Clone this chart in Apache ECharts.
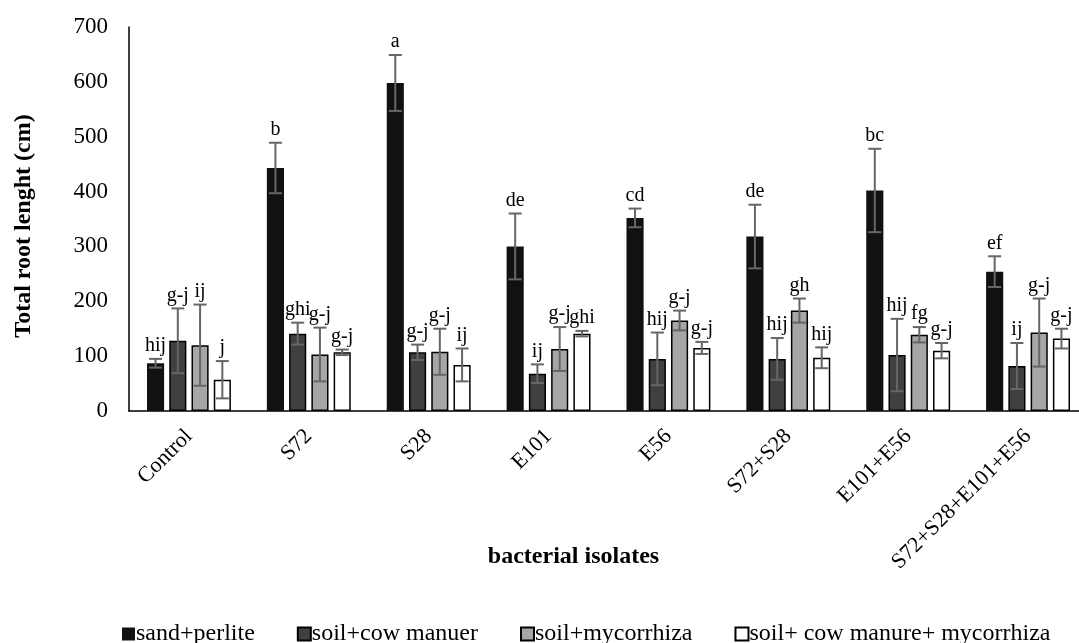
<!DOCTYPE html>
<html>
<head>
<meta charset="utf-8">
<script src="https://cdn.jsdelivr.net/npm/echarts@6/dist/echarts.min.js"></script>
<style>
  html, body { margin: 0; padding: 0; background: #fff; }
  #chart { width: 1079px; height: 643px; }
</style>
</head>
<body>
<div id="chart"></div>
<script>
const categories = ['Control', 'S72', 'S28', 'E101', 'E56', 'S72+S28', 'E101+E56', 'S72+S28+E101+E56'];
const seriesNames = ['sand+perlite', 'soil+cow manuer', 'soil+mycorrhiza', 'soil+ cow manure+ mycorrhiza'];

const sandPerlite = [87, 443, 598, 300, 352, 318, 402, 254];
const soilCow = [128, 141, 107, 68, 95, 95, 102, 82];
const soilMyco = [120, 103, 108, 113, 165, 183, 139, 143];
const soilCowMyco = [57, 107, 84, 141, 115, 97, 110, 132];

const sandErr = [8, 46, 51, 60, 17, 58, 76, 28];
const cowErr = [59, 20, 14, 17, 48, 38, 66, 42];
const mycoErr = [74, 49, 42, 40, 18, 22, 14, 62];
const cowMycoErr = [34, 5, 30, 5, 11, 19, 14, 18];

const sandLetters = ['hij', 'b', 'a', 'de', 'cd', 'de', 'bc', 'ef'];
const cowLetters = ['g-j', 'ghi', 'g-j', 'ij', 'hij', 'hij', 'hij', 'ij'];
const mycoLetters = ['ij', 'g-j', 'g-j', 'g-j', 'g-j', 'gh', 'fg', 'g-j'];
const cowMycoLetters = ['j', 'g-j', 'ij', 'ghi', 'g-j', 'hij', 'g-j', 'g-j'];

const yTicks = [0, 100, 200, 300, 400, 500, 600, 700];

const means = [sandPerlite, soilCow, soilMyco, soilCowMyco];
const errs = [sandErr, cowErr, mycoErr, cowMycoErr];
const letters = [sandLetters, cowLetters, mycoLetters, cowMycoLetters];
const colors = ['#111111', '#404040', '#a6a6a6', '#ffffff'];

const FONT = '"Liberation Serif", "DejaVu Serif", serif';
const CAT_GAP = 0.3;
const BAR_GAP = 0.3;

// one row per bar: [category, series, mean, err, letter]
const errRows = [];
means.forEach((vals, si) => {
  vals.forEach((v, ci) => {
    errRows.push([ci, si, v, errs[si][ci], letters[si][ci]]);
  });
});

function renderErr(params, api) {
  const ci = api.value(0);
  const si = api.value(1);
  const mean = api.value(2);
  const err = api.value(3);
  const letter = errRows[params.dataIndex][4];
  const band = api.size([1, 0])[0];
  const n = means.length;
  const barW = band * (1 - CAT_GAP) / (n + (n - 1) * BAR_GAP);
  const step = barW * (1 + BAR_GAP);
  const center = api.coord([ci, mean]);
  const x = center[0] + (si - (n - 1) / 2) * step;
  const hi = api.coord([ci, mean + err])[1];
  const lo = api.coord([ci, mean - err])[1];
  const cap = 6.5;
  const ls = { stroke: '#666666', lineWidth: 2 };
  return {
    type: 'group',
    children: [
      { type: 'line', shape: { x1: x, y1: hi, x2: x, y2: lo }, style: ls },
      { type: 'line', shape: { x1: x - cap, y1: hi, x2: x + cap, y2: hi }, style: ls },
      { type: 'line', shape: { x1: x - cap, y1: lo, x2: x + cap, y2: lo }, style: ls },
      {
        type: 'text',
        x: x,
        y: hi - 3,
        style: {
          text: letter,
          fill: '#000',
          font: '20px ' + FONT,
          align: 'center',
          verticalAlign: 'bottom'
        }
      }
    ]
  };
}

const chart = echarts.init(document.getElementById('chart'));

const barSeries = seriesNames.map((name, si) => ({
  name: name,
  type: 'bar',
  data: means[si],
  barGap: (BAR_GAP * 100) + '%',
  barCategoryGap: (CAT_GAP * 100) + '%',
  itemStyle: { color: colors[si], borderColor: '#000', borderWidth: si === 0 ? 0 : 1.5 },
  emphasis: { disabled: true }
}));

chart.setOption({
  animation: false,
  textStyle: { fontFamily: FONT },
  grid: { left: 129, right: -9, top: 27, bottom: 232, outerBoundsMode: 'none', containLabel: false },
  legend: {
    top: 617,
    left: 117,
    itemWidth: 13,
    itemHeight: 13,
    itemGap: 42,
    icon: 'rect',
    data: seriesNames,
    textStyle: { fontFamily: FONT, fontSize: 24, color: '#000', padding: [0, 0, 0, -4] }
  },
  xAxis: {
    type: 'category',
    data: categories,
    name: 'bacterial isolates',
    nameLocation: 'middle',
    nameGap: 134,
    nameMoveOverlap: false,
    nameTextStyle: { fontFamily: FONT, fontSize: 24, fontWeight: 'bold', color: '#000', padding: [0, 70, 0, 0] },
    axisLine: { lineStyle: { color: '#000', width: 1.5 } },
    axisTick: { show: false },
    axisLabel: { rotate: 45, fontFamily: FONT, fontSize: 22, color: '#000', margin: 22, interval: 0 }
  },
  yAxis: {
    type: 'value',
    min: yTicks[0],
    max: yTicks[yTicks.length - 1],
    interval: 100,
    name: 'Total root lenght (cm)',
    nameLocation: 'middle',
    nameGap: 93,
    nameMoveOverlap: false,
    nameTextStyle: { fontFamily: FONT, fontSize: 24, fontWeight: 'bold', color: '#000', padding: [0, 14, 0, 0] },
    axisLine: { show: true, lineStyle: { color: '#000', width: 1.5 } },
    axisTick: { show: false },
    splitLine: { show: false },
    axisLabel: { fontFamily: FONT, fontSize: 23, color: '#000', margin: 21 }
  },
  series: barSeries.concat([{
    type: 'custom',
    name: 'err',
    renderItem: renderErr,
    data: errRows.map(r => [r[0], r[1], r[2], r[3]]),
    encode: { x: 0, y: 2 },
    z: 10,
    silent: true
  }])
});
</script>
</body>
</html>
